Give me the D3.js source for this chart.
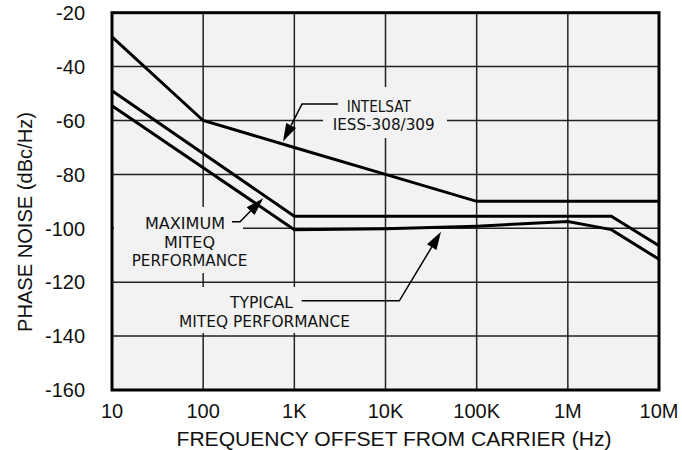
<!DOCTYPE html>
<html>
<head>
<meta charset="utf-8">
<script src="https://cdn.jsdelivr.net/npm/d3@7"></script>
<style>
  html, body { margin: 0; padding: 0; background: #fff; }
  svg { display: block; }
</style>
</head>
<body>
<svg id="chart" width="682" height="450"></svg>
<script>
// ---- data ----
const xTicks = [10, 100, 1000, 10000, 100000, 1000000, 10000000];
const xTickLabels = ["10", "100", "1K", "10K", "100K", "1M", "10M"];
const yTicks = [-20, -40, -60, -80, -100, -120, -140, -160];
const yTickLabels = ["-20", "-40", "-60", "-80", "-100", "-120", "-140", "-160"];

const intelsatFreq = [10, 100, 1000, 10000, 100000, 10000000];
const intelsatVals = [-29, -60, -70, -80, -90, -90];

const maximumFreq = [10, 1000, 3000000, 10000000];
const maximumVals = [-49, -95.5, -95.5, -106.5];

const typicalFreq = [10, 1000, 10000, 100000, 1000000, 3000000, 10000000];
const typicalVals = [-54.5, -100.5, -100.2, -99.2, -97.5, -100.5, -111.5];

const xTitle = "FREQUENCY OFFSET FROM CARRIER (Hz)";
const yTitle = "PHASE NOISE (dBc/Hz)";

// ---- layout ----
const L = 112, R = 659, T = 12.7, B = 390;
const svg = d3.select("#chart");
const x = d3.scaleLog().domain([10, 1e7]).range([L, R]);
const y = d3.scaleLinear().domain([-160, -20]).range([B, T]);

const axisFont = "'Liberation Sans', Arial, Helvetica, sans-serif";
const noteFont = "'Liberation Sans Narrow', 'DejaVu Sans Condensed', 'Roboto Condensed', sans-serif";

// plot background
svg.append("rect").attr("x", L).attr("y", T).attr("width", R - L).attr("height", B - T)
  .attr("fill", "#f2f2f2");

// grid
const g = svg.append("g").attr("stroke", "#222").attr("stroke-width", 1.5);
g.selectAll("line.vx").data(xTicks.slice(1, -1)).join("line")
  .attr("x1", d => x(d)).attr("x2", d => x(d)).attr("y1", T).attr("y2", B);
g.selectAll("line.hy").data(yTicks.slice(1, -1)).join("line")
  .attr("x1", L).attr("x2", R).attr("y1", d => y(d)).attr("y2", d => y(d));

// label background patches (interrupt the grid)
const patches = [
  {x: 323, y: 87, w: 124, h: 51},
  {x: 114, y: 207, w: 129, h: 66},
  {x: 170, y: 287, w: 185, h: 46}
];
svg.selectAll("rect.patch").data(patches).join("rect")
  .attr("x", d => d.x).attr("y", d => d.y).attr("width", d => d.w).attr("height", d => d.h)
  .attr("fill", "#f2f2f2");

// curves
const line = d3.line().x(d => x(d[0])).y(d => y(d[1]));
const series = [
  d3.zip(intelsatFreq, intelsatVals),
  d3.zip(maximumFreq, maximumVals),
  d3.zip(typicalFreq, typicalVals)
];
svg.selectAll("path.curve").data(series).join("path")
  .attr("d", line).attr("fill", "none").attr("stroke", "#000")
  .attr("stroke-width", 3).attr("stroke-linejoin", "miter");

// border
svg.append("rect").attr("x", L).attr("y", T).attr("width", R - L).attr("height", B - T)
  .attr("fill", "none").attr("stroke", "#000").attr("stroke-width", 3);

// tick labels
svg.selectAll("text.yt").data(yTicks).join("text")
  .attr("x", 85).attr("y", d => y(d)).attr("dy", "0.36em")
  .attr("text-anchor", "end").attr("font-family", axisFont).attr("font-size", 20)
  .attr("fill", "#111").text((d, i) => yTickLabels[i]);
svg.selectAll("text.xt").data(xTicks).join("text")
  .attr("x", d => x(d)).attr("y", 418)
  .attr("text-anchor", "middle").attr("font-family", axisFont).attr("font-size", 20)
  .attr("fill", "#111").text((d, i) => xTickLabels[i]);

// axis titles
svg.append("text").attr("x", 394).attr("y", 446).attr("text-anchor", "middle")
  .attr("font-family", axisFont).attr("font-size", 20.5).attr("fill", "#111")
  .attr("textLength", 435).attr("lengthAdjust", "spacingAndGlyphs").text(xTitle);
svg.append("text").attr("transform", "translate(32,222) rotate(-90)")
  .attr("text-anchor", "middle").attr("font-family", axisFont).attr("font-size", 20)
  .attr("fill", "#111").attr("textLength", 220).attr("lengthAdjust", "spacingAndGlyphs")
  .text(yTitle);

// annotation texts
const notes = [
  {t: "INTELSAT", x: 346.7, y: 112, w: 64},
  {t: "IESS-308/309", x: 332.7, y: 130, w: 102},
  {t: "MAXIMUM", x: 145, y: 229.3, w: 80},
  {t: "MITEQ", x: 164, y: 247.5, w: 51},
  {t: "PERFORMANCE", x: 131.7, y: 266, w: 115.6},
  {t: "TYPICAL", x: 230, y: 308.3, w: 63},
  {t: "MITEQ PERFORMANCE", x: 179, y: 326.6, w: 171}
];
svg.selectAll("text.note").data(notes).join("text")
  .attr("x", d => d.x).attr("y", d => d.y)
  .attr("font-family", noteFont).attr("font-size", 16).attr("fill", "#111")
  .attr("textLength", d => d.w).attr("lengthAdjust", "spacingAndGlyphs")
  .text(d => d.t);

// leaders with arrowheads
const leaders = [
  {pts: [[338, 104], [302, 104], [283, 141.5]]},
  {pts: [[232, 221.7], [240, 221.7], [263.3, 198.3]]},
  {pts: [[301.7, 300.8], [399.3, 300.8], [441, 231.7]]}
];
const lg = svg.append("g");
leaders.forEach(l => {
  const p = l.pts;
  const tip = p[p.length - 1], prev = p[p.length - 2];
  const dx = tip[0] - prev[0], dy = tip[1] - prev[1];
  const len = Math.hypot(dx, dy);
  const ux = dx / len, uy = dy / len;
  const ah = 18, aw = 5.5;
  const bx = tip[0] - ux * ah, by = tip[1] - uy * ah;
  const linePts = p.slice(0, -1).concat([[bx, by]]);
  lg.append("path").attr("d", d3.line()(linePts)).attr("fill", "none")
    .attr("stroke", "#000").attr("stroke-width", 1.5);
  const tri = [[tip[0], tip[1]], [bx - uy * aw, by + ux * aw], [bx + uy * aw, by - ux * aw]];
  lg.append("path").attr("d", d3.line()(tri) + "Z").attr("fill", "#000");
});
</script>
</body>
</html>
